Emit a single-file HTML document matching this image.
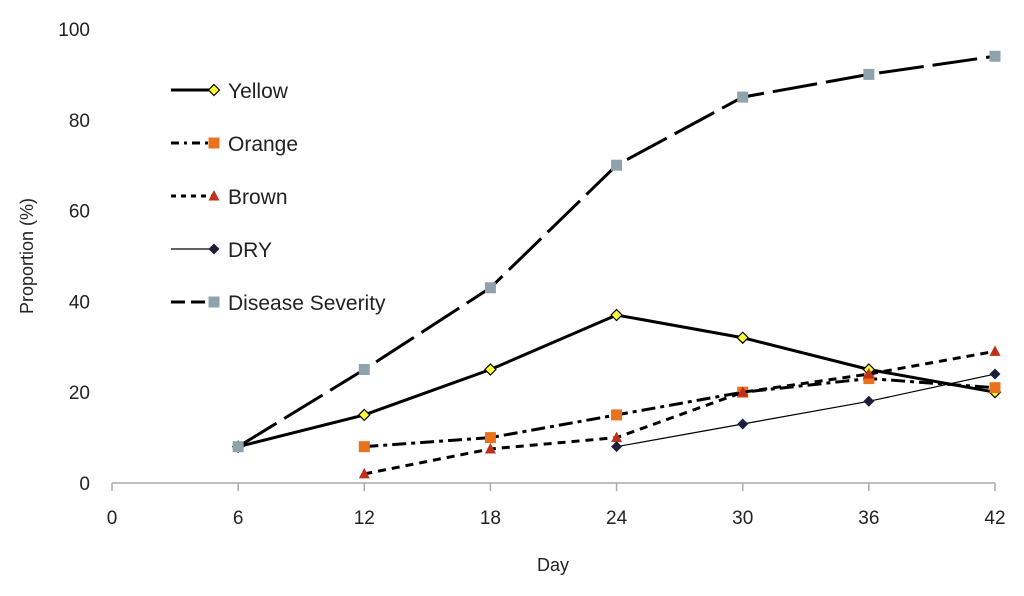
<!DOCTYPE html>
<html><head><meta charset="utf-8"><style>
body{margin:0;background:#fff}
svg text{font-family:"Liberation Sans",sans-serif;fill:#222}
</style></head><body>
<svg id="c" width="1024" height="591" viewBox="0 0 1024 591"></svg>
<script>
const days=[0,6,12,18,24,30,36,42];
const yTicks=[0,20,40,60,80,100];
const yellowX=[6,12,18,24,30,36,42];
const yellowY=[8,15,25,37,32,25,20];
const orangeX=[12,18,24,30,36,42];
const orangeY=[8,10,15,20,23,21];
const brownX=[12,18,24,30,36,42];
const brownY=[2,7.5,10,20,24,29];
const dryX=[24,30,36,42];
const dryY=[8,13,18,24];
const sevX=[6,12,18,24,30,36,42];
const sevY=[8,25,43,70,85,90,94];
const legendLabels=["Yellow","Orange","Brown","DRY","Disease Severity"];

const NS="http://www.w3.org/2000/svg";
const svg=document.getElementById('c');
const X=v=>112+v*(995-112)/42;
const Y=v=>483-v*(483-29)/100;
function mk(t,a,p){const e=document.createElementNS(NS,t);for(const k in a)e.setAttribute(k,a[k]);(p||svg).appendChild(e);return e;}

const ax=mk('line',{x1:112,y1:483,x2:995,y2:483,stroke:'#aaa','stroke-width':1.5});


days.forEach(d=>{
  const t=mk('line',{x1:X(d),y1:483,x2:X(d),y2:491,stroke:'#aaa','stroke-width':1.5});
  
  
  const l=mk('text',{x:X(d),y:524,'text-anchor':'middle','font-size':19});
  l.textContent=d;
  
  
});
yTicks.forEach(v=>{
  const l=mk('text',{x:90,y:Y(v)+7,'text-anchor':'end','font-size':19});
  l.textContent=v;
  
  
});
const xt=mk('text',{x:553,y:571,'text-anchor':'middle','font-size':18});xt.textContent='Day';


const yt=mk('text',{x:0,y:0,'text-anchor':'middle','font-size':18,transform:'translate(33,256) rotate(-90)'});yt.textContent='Proportion (%)';



function marker(kind,x,y,g){
  let e;
  if(kind==='diamondY')e=mk('polygon',{points:`${x},${y-5.5} ${x+5.5},${y} ${x},${y+5.5} ${x-5.5},${y}`,fill:'#ffff33',stroke:'#000','stroke-width':1.2},g);
  if(kind==='sqO')e=mk('rect',{x:x-5.5,y:y-5.5,width:11,height:11,fill:'#e8731c'},g);
  if(kind==='tri')e=mk('polygon',{points:`${x},${y-6} ${x+5.5},${y+4.5} ${x-5.5},${y+4.5}`,fill:'#c0301a'},g);
  if(kind==='dia')e=mk('polygon',{points:`${x},${y-5.5} ${x+5.5},${y} ${x},${y+5.5} ${x-5.5},${y}`,fill:'#1e1e3c'},g);
  if(kind==='sqG')e=mk('rect',{x:x-5.5,y:y-5.5,width:11,height:11,fill:'#8fa3ad'},g);
  
  
}
const series=[
 {name:'yellow',xs:yellowX,ys:yellowY,w:3,dash:'',m:'diamondY'},
 {name:'orange',xs:orangeX,ys:orangeY,w:3,dash:'14 5 4 5',m:'sqO'},
 {name:'brown',xs:brownX,ys:brownY,w:3,dash:'8 6',m:'tri'},
 {name:'dry',xs:dryX,ys:dryY,w:1.2,dash:'',m:'dia'},
 {name:'disease-severity',xs:sevX,ys:sevY,w:3,dash:'45 9',m:'sqG'}
];
series.forEach((s,i)=>{
  const g=mk('g',{});
  
  
  const p=mk('polyline',{points:s.xs.map((x,j)=>X(x)+','+Y(s.ys[j])).join(' '),fill:'none',stroke:'#000','stroke-width':s.w,'stroke-dasharray':s.dash},g);
  
  
  s.xs.forEach((x,j)=>marker(s.m,X(x),Y(s.ys[j]),g));
  const ly=90+i*53;
  const lg=mk('g',{});
  
  
  mk('line',{x1:171,y1:ly,x2:213,y2:ly,stroke:'#000','stroke-width':s.w,'stroke-dasharray':s.dash==='45 9'?'14 6':(s.dash==='14 5 4 5'?'8 5 3 5':(s.dash?'5 5':''))},lg);
  marker(s.m,214,ly,lg);
  const t=mk('text',{x:228,y:ly+8,'font-size':21},lg);
  t.textContent=legendLabels[i];
});
</script>
</body></html>
